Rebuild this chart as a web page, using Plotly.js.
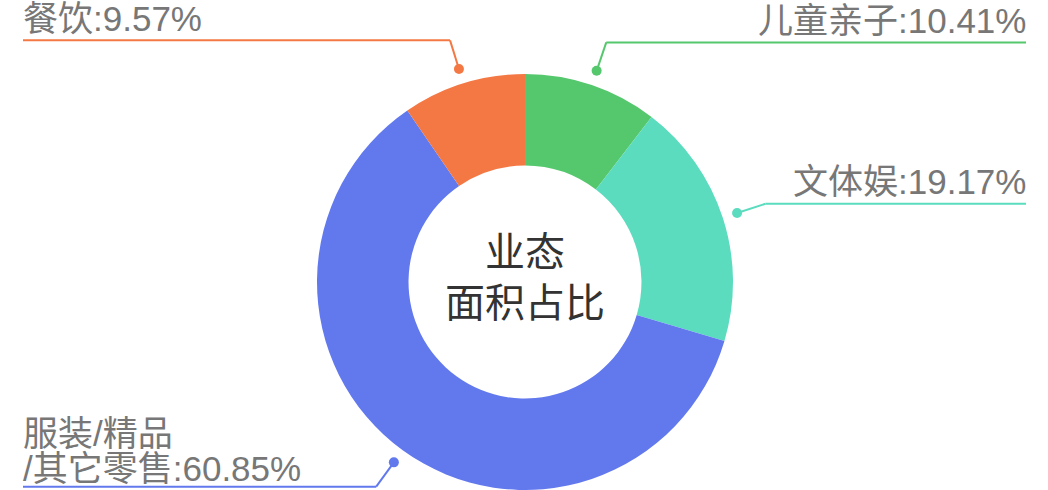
<!DOCTYPE html>
<html>
<head>
<meta charset="utf-8">
<script src="https://cdn.plot.ly/plotly-3.0.1.min.js"></script>
<style>
  html, body { margin: 0; padding: 0; background: #fff; }
  #chart { width: 1048px; height: 490px; }
</style>
</head>
<body>
<div id="chart"></div>
<script>
// data, clockwise from 12 o'clock
const categories = ["儿童亲子", "文体娱", "服装/精品/其它零售", "餐饮"];
const shares = [10.41, 19.17, 60.85, 9.57];
// where each label wraps (服装 is split on two lines in the picture)
const labelBreaks = [[], [], ["服装/精品", "/其它零售"], []];
const centerLines = ["业态", "面积占比"];
const sliceColors = ["#55c76d", "#5bdcbf", "#6279ee", "#f47843"];

const W = 1048, H = 490;
const cx = 525, cy = 282, R = 208;
const FONT = "Liberation Sans, Noto Sans CJK SC, sans-serif";

const px = (x) => x / W;
const py = (y) => 1 - y / H;

function labelLinesFor(i) {
  const pct = ":" + shares[i].toFixed(2) + "%";
  const parts = labelBreaks[i].length ? labelBreaks[i].slice() : [categories[i]];
  parts[parts.length - 1] += pct;
  return parts;
}

function buildLeaders() {
  const total = shares.reduce((a, b) => a + b, 0);
  const shapes = [];
  const annotations = [];
  let acc = 0;
  shares.forEach((v, i) => {
    const mid = (acc + v / 2) / total;
    acc += v;
    const ang = mid * 2 * Math.PI;
    const s = Math.sin(ang), c = Math.cos(ang);
    const dot = [cx + (R + 15) * s, cy - (R + 15) * c];
    const elbow = [cx + (R + 45) * s, cy - (R + 45) * c];
    const right = s > 0;
    const endX = right ? 1026 : 23;
    const col = sliceColors[i];
    shapes.push({ type: "line", xref: "paper", yref: "paper", x0: px(dot[0]), y0: py(dot[1]), x1: px(elbow[0]), y1: py(elbow[1]), line: { color: col, width: 2 } });
    shapes.push({ type: "line", xref: "paper", yref: "paper", x0: px(elbow[0]), y0: py(elbow[1]), x1: px(endX), y1: py(elbow[1]), line: { color: col, width: 2 } });
    shapes.push({ type: "circle", xref: "paper", yref: "paper", x0: px(dot[0] - 5), x1: px(dot[0] + 5), y0: py(dot[1] + 5), y1: py(dot[1] - 5), fillcolor: col, line: { width: 0 } });
    const lines = labelLinesFor(i);
    const lastGap = lines.length > 1 ? 18 : 22;
    lines.forEach((txt, k) => {
      const back = lines.length - 1 - k;
      annotations.push({
        xref: "paper", yref: "paper",
        x: px(right ? endX + 2 : endX - 2), y: py(elbow[1] - lastGap - back * 35),
        xanchor: right ? "right" : "left", yanchor: "middle",
        text: txt, showarrow: false,
        font: { family: FONT, size: 35, color: "#777777" }
      });
    });
  });
  centerLines.forEach((txt, k) => {
    annotations.push({
      xref: "paper", yref: "paper", x: px(cx), y: py(k === 0 ? 252 : 303),
      xanchor: "center", yanchor: "middle", text: txt, showarrow: false,
      font: { family: FONT, size: 40, color: "#333333" }
    });
  });
  return { shapes, annotations };
}

const leaders = buildLeaders();

Plotly.newPlot("chart", [{
  type: "pie",
  labels: categories,
  values: shares,
  hole: 0.56,
  sort: false,
  direction: "clockwise",
  rotation: 0,
  textinfo: "none",
  marker: { colors: sliceColors, line: { width: 0 } },
  domain: { x: [px(cx - R), px(cx + R)], y: [py(cy + R), py(cy - R)] },
  hoverinfo: "label+percent"
}], {
  width: W, height: H,
  margin: { l: 0, r: 0, t: 0, b: 0 },
  paper_bgcolor: "#ffffff",
  showlegend: false,
  shapes: leaders.shapes,
  annotations: leaders.annotations
}, { displayModeBar: false, staticPlot: true });
</script>
</body>
</html>
